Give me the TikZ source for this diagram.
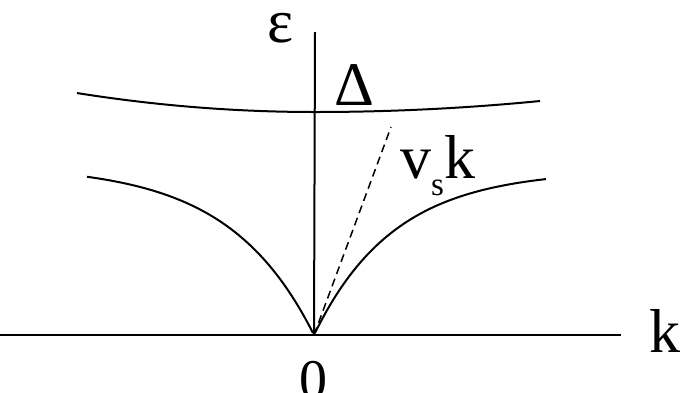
\documentclass[tikz,border=0pt]{standalone}
\usepackage{fontspec}
\setmainfont{Liberation Serif}
\begin{document}
\begin{tikzpicture}[x=1pt,y=-1pt,
  axis/.style={line width=2pt},
  band/.style={line width=2pt},
  slope/.style={line width=1.5pt,dash pattern=on 8pt off 5pt},
  lbl/.style={inner sep=0pt,font=\fontsize{62}{62}\selectfont}]
\useasboundingbox (0,0) rectangle (683,392);
\coordinate (o) at (314,335);
\coordinate (xl) at (0,335);
\coordinate (xr) at (621,335);
\coordinate (yt) at (315,32);
\coordinate (st) at (391,127);
\draw[axis] (xl) -- (xr);
\draw[axis] (o) -- (yt);
% gap branch
\draw[band] plot[domain=77:315,samples=50,smooth] (\x,{112-3.35*((\x-315)/100)^2})
  -- plot[domain=315:540,samples=50,smooth] (\x,{112-2.17*((\x-315)/100)^2});
% acoustic branches
\draw[band] plot[domain=87:313,samples=70,smooth] (\x,{335-170*(1-exp(-(314-\x)/85))});
\draw[band] plot[domain=315:546,samples=70,smooth] (\x,{335-165*(1-exp(-(\x-314)/80))});
\draw[slope] (o) -- (st);
\node[lbl,anchor=base,text height=30pt] (eps) at (281,42) {ε};
\node[lbl,anchor=base] (gap) at (354,105) {Δ};
\node[lbl,anchor=base west] (vs) at (400,178) {v\raisebox{-17pt}{\fontsize{33}{33}\selectfont s}k};
\node[lbl,anchor=base west] (k) at (649,352) {k};
\node[lbl,anchor=base,text height=30pt,font=\fontsize{56}{56}\selectfont] (zero) at (313.5,398) {0};
\end{tikzpicture}
\end{document}
